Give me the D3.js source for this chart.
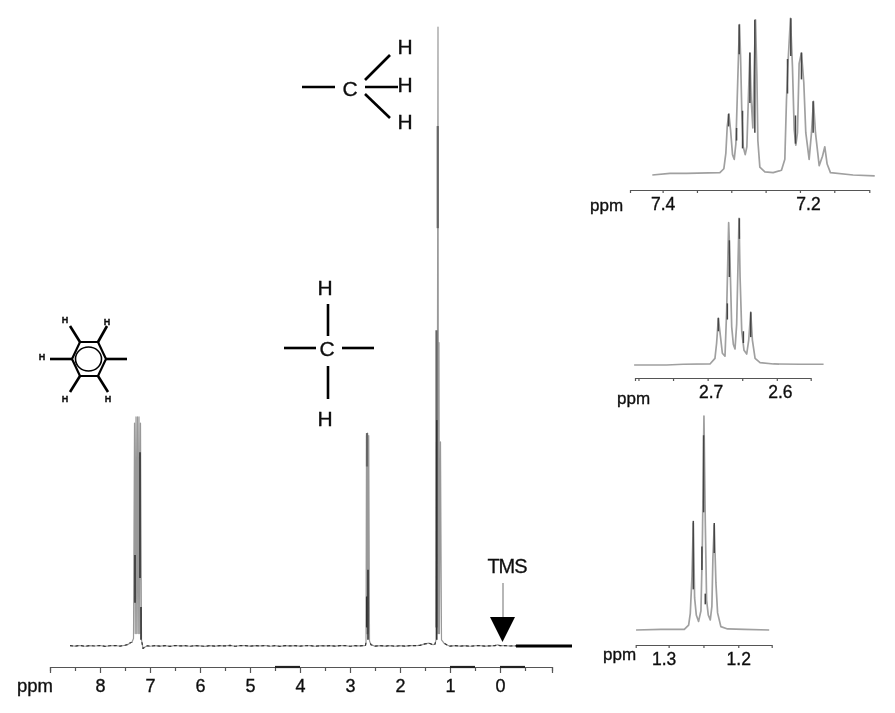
<!DOCTYPE html>
<html>
<head>
<meta charset="utf-8">
<script src="https://cdn.jsdelivr.net/npm/d3@7"></script>
<style>
  html, body { margin: 0; background: #fff; }
  text { font-family: "Liberation Sans", Arial, sans-serif; fill: #111; }
</style>
</head>
<body>
<div id="chart"></div>
<script>
// Full spectrum (ppm, relative intensity)
const mainPpm = [
  8.6,8.5,8.4,8.3,8.2,8.1,8.0,7.9,7.8,7.7,7.6,7.5,7.44,7.4,7.36,
  7.33,7.31,7.295,7.28,7.265,7.25,7.235,7.22,7.205,7.19,7.17,7.14,
  7.1,7.05,7.0,6.9,6.8,6.7,6.6,6.5,6.4,6.3,6.2,6.1,6.0,5.9,5.8,5.7,5.6,5.5,5.4,5.3,5.2,5.1,5.0,4.9,4.8,4.7,4.6,4.5,4.4,4.3,4.2,4.1,4.0,3.9,3.8,3.7,3.6,3.5,3.4,3.3,3.2,3.1,3.0,2.9,2.8,
  2.72,2.69,2.68,2.67,2.66,2.65,2.64,2.625,2.61,2.58,
  2.5,2.4,2.3,2.2,2.1,2.0,1.9,1.8,1.7,1.6,1.5,1.42,1.34,
  1.3,1.28,1.27,1.26,1.25,1.24,1.23,1.22,1.21,1.19,
  1.17,1.12,1.05,1.0,0.9,0.8,0.7,0.6,0.5,0.4,0.3,0.2,0.1,0.05,0.0,-0.1,-0.2,-0.32
];
const mainIntensity = [
  0.05,-0.03,0.08,-0.04,0.06,0,0.08,-0.05,0.04,0.08,-0.02,0.12,0.25,0.5,0.65,
  1.2,36,2,37,2,37,2,37,2,36,1,-0.4,
  -0.15,0.04,-0.04,0.07,-0.03,0.06,-0.05,0.08,0.01,0.05,-0.04,0.07,0.02,-0.05,0.06,-0.03,0.05,0.01,0.09,-0.04,0.05,0.07,-0.03,0.06,0.01,0.08,-0.04,0.05,-0.05,0.07,0.01,0.05,-0.03,0.04,0.07,-0.04,0.05,0.01,0.07,-0.03,0.05,0.07,-0.04,0.05,0.01,0.06,
  0.08,0.6,34,2,34.4,2,34,0.8,0.2,-0.03,
  0.06,-0.02,0.07,-0.04,0.05,-0.02,0.07,0.05,0.1,0.35,0.45,0.2,0.3,
  1,33,2,51,100,2,49,2,33,1,
  0.45,0.12,-0.03,0.06,-0.02,0.05,-0.04,0.04,0.07,-0.02,0.03,0.06,0.2,0.05,0.06,0,0.03,0
];
// Flat end of the trace, heavier than the rest
const mainTail = [-0.32,-0.8,-1.44];
const mainTailIntensity = [0,0,0];
// Darker stretches seen on the peaks: [ppm, low, high]
const mainDark = [[7.2,11,31.3],[7.3,7,14.7],[7.18,1,6.3],[2.64,1,12.3],[2.665,3,8],[1.265,1,36.5]];
const mainMid = [[2.66,29,34.4],[1.245,67.5,84],[1.27,3,51]];

// Aromatic multiplet
const benzenePpm = [7.415,7.3893,7.3651,7.3166,7.3108,7.3079,7.3059,7.3035,7.3011,7.2982,7.2957,7.2933,7.2914,7.2894,7.288,7.2865,7.2846,7.2826,7.2797,7.2773,7.2749,7.2729,7.271,7.2686,7.2666,7.2647,7.2627,7.2613,7.2584,7.2511,7.239,7.2269,7.222,7.2196,7.2172,7.2138,7.2109,7.2084,7.206,7.2036,7.2012,7.1978,7.1944,7.1915,7.1866,7.1832,7.1803,7.1774,7.172,7.1672,7.1638,7.1604,7.1556,7.1226,7.0911];
const benzeneIntensity = [0,1,1,1.5,4,14,31,39,29,13,10,20,48,78,96,76,39,18,13,18,52,78,48,30,69,99,63,22,5,2,1.5,3,10,48,73,100,69,29,19,27,71,78,59,27,10,27,47,27,6,12,18,7,1.5,0,-0.5];
const benzeneDark = [[7.2885,77,96],[7.2657,27,99],[7.2729,46,78],[7.2133,76,100],[7.2181,52,74],[7.1978,61,78],[7.1808,27,47],[7.304,31,39],[7.2836,17,41],[7.2923,22,30],[7.2065,20,38]];
const benzeneTicks = [7.4,7.35,7.3,7.25,7.2,7.15];

// CH2 quartet
const ch2Ppm = [2.8063,2.7594,2.7353,2.6966,2.6894,2.687,2.6845,2.6816,2.6787,2.6749,2.6725,2.6696,2.6676,2.6652,2.6628,2.6604,2.658,2.6546,2.6531,2.6507,2.6474,2.6435,2.6406,2.6377,2.6353,2.6314,2.6242,2.6048,2.5662,2.5324];
const ch2Intensity = [0,0,0.5,0.7,4.5,15,32,20,8,6,37,97,70,26,14,11,28,100,60,23,10,7.5,17,36,17,4.5,1.6,0.7,0.5,0.5];
const ch2Dark = [[2.6686,60,85],[2.6541,86,100],[2.6377,19,36],[2.6845,23,32],[2.6715,31,42],[2.6483,15,23]];
const ch2Ticks = [2.8,2.75,2.7,2.65,2.6];

// CH3 triplet
const ch3Ppm = [1.3468,1.311,1.2775,1.2713,1.2689,1.2665,1.2646,1.2627,1.2603,1.257,1.2536,1.2517,1.2493,1.2474,1.2455,1.2431,1.2402,1.2379,1.2364,1.2345,1.2321,1.2297,1.225,1.2154,1.1915,1.1556];
const ch3Intensity = [0,0.3,0.3,2.3,7.8,25,50,15,7,4,9,37,100,51,14,7,4.7,11,34,49,22,8,1.6,0.5,0.3,0];
const ch3Dark = [[1.2646,19,51],[1.2498,55,91],[1.2522,28,39],[1.2345,36,50],[1.2474,12,17]];
const ch3Ticks = [1.3,1.25,1.2];

const mainTicks = [8,7,6,5,4,3,2,1,0];
const mainMinorTicks = [8.5,7.5,6.5,5.5,4.5,3.5,2.5,1.5,0.5,-0.5];
// Heavy bars on the main axis: [from ppm, to ppm]
const axisBars = [[4.5,4],[1,0.5],[0,-0.5]];

const width = 895;
const height = 713;

const svg = d3.select('#chart').append('svg')
  .attr('width', width)
  .attr('height', height)
  .style('display', 'block');

// The source is a soft scan
svg.append('filter').attr('id', 'soft')
  .append('feGaussianBlur').attr('stdDeviation', 0.45);

const root = svg.append('g').attr('filter', 'url(#soft)');

function drawTrace(g, x, y, ppm, intensity, color, strokeWidth) {
  const line = d3.line().x((d) => x(d)).y((d, i) => y(intensity[i]));
  return g.append('path')
    .attr('d', line(ppm))
    .attr('fill', 'none')
    .attr('stroke', color)
    .attr('stroke-width', strokeWidth)
    .attr('stroke-linejoin', 'round');
}

function drawDark(g, x, y, dark, color, strokeWidth) {
  g.append('g')
    .selectAll('line')
    .data(dark)
    .enter()
    .append('line')
    .attr('x1', (d) => x(d[0]))
    .attr('x2', (d) => x(d[0]))
    .attr('y1', (d) => y(d[1]))
    .attr('y2', (d) => y(d[2]))
    .attr('stroke', color)
    .attr('stroke-width', strokeWidth);
}

function styleAxis(g) {
  g.selectAll('path, line').attr('stroke', '#555').attr('stroke-width', 1.2);
  g.selectAll('text').attr('fill', '#111').attr('stroke', '#111').attr('stroke-width', 0.35);
}

// Main spectrum
const mainX = d3.scaleLinear().domain([9, -1.04]).range([50, 552]);
const mainY = d3.scaleLinear().domain([0, 100]).range([646, 27]);
const mainG = root.append('g');

// Clip for the speckled baseline only
svg.append('clipPath').attr('id', 'baseline')
  .append('rect')
  .attr('x', 0)
  .attr('width', width)
  .attr('y', mainY(0.6))
  .attr('height', mainY(-0.6) - mainY(0.6));

drawTrace(mainG, mainX, mainY, mainPpm, mainIntensity, '#999', 1.2);
drawTrace(mainG.append('g').attr('clip-path', 'url(#baseline)'), mainX, mainY, mainPpm, mainIntensity, '#333', 1.2)
  .attr('stroke-dasharray', '3 2.5');
drawDark(mainG, mainX, mainY, mainMid, '#666', 2.2);
drawDark(mainG, mainX, mainY, mainDark, '#333', 1.6);
drawTrace(mainG, mainX, mainY, mainTail, mainTailIntensity, '#000', 3);

const mainAxis = d3.axisBottom(mainX)
  .tickValues(mainTicks)
  .tickFormat(d3.format('d'))
  .tickSize(6)
  .tickPadding(6);
const mainAxisG = root.append('g')
  .attr('transform', 'translate(0,667)')
  .call(mainAxis);
mainAxisG.selectAll('text').attr('font-size', 18).attr('font-family', '"Liberation Sans", Arial, sans-serif');
styleAxis(mainAxisG);

const mainMinor = root.append('g')
  .attr('transform', 'translate(0,667)')
  .call(d3.axisBottom(mainX).tickValues(mainMinorTicks).tickFormat('').tickSize(4));
styleAxis(mainMinor);

root.selectAll('line.bar')
  .data(axisBars)
  .enter()
  .append('line')
  .attr('class', 'bar')
  .attr('x1', (d) => mainX(d[0]))
  .attr('x2', (d) => mainX(d[1]))
  .attr('y1', 667)
  .attr('y2', 667)
  .attr('stroke', '#222')
  .attr('stroke-width', 2.2);

root.append('text').attr('x', 17).attr('y', 692).attr('font-size', 18.5)
  .attr('stroke', '#111').attr('stroke-width', 0.35).text('ppm');

// Expansions on the right
function drawInset(opts) {
  const x = d3.scaleLinear().domain(opts.domain).range(opts.range);
  const y = d3.scaleLinear().domain([0, 100]).range([opts.base, opts.top]);
  const g = root.append('g');

  drawTrace(g, x, y, opts.ppm, opts.intensity, '#a0a0a0', 1.7);
  drawDark(g, x, y, opts.dark, '#444', 1.5);

  const axis = d3.axisBottom(x)
    .tickValues(opts.ticks)
    .tickFormat((d) => (opts.labels[d] !== undefined ? d3.format('.1f')(d) : ''))
    .tickSize(3)
    .tickPadding(5);
  const axisG = root.append('g')
    .attr('transform', `translate(0,${opts.axisY})`)
    .call(axis);
  axisG.selectAll('text')
    .attr('font-size', 17.5)
    .attr('font-family', '"Liberation Sans", Arial, sans-serif')
    .attr('dx', (d) => opts.labels[d] || 0);
  styleAxis(axisG);

  root.append('text').attr('x', opts.ppmLabel[0]).attr('y', opts.ppmLabel[1])
    .attr('font-size', 17).attr('stroke', '#111').attr('stroke-width', 0.35).text('ppm');
}

drawInset({
  ppm: benzenePpm, intensity: benzeneIntensity, dark: benzeneDark, ticks: benzeneTicks,
  domain: [7.4475, 7.099], range: [630, 869.3], base: 175, top: 18.3, axisY: 190,
  labels: { 7.4: 0, 7.2: 8 }, ppmLabel: [590, 211],
});
drawInset({
  ppm: ch2Ppm, intensity: ch2Intensity, dark: ch2Dark, ticks: ch2Ticks,
  domain: [2.805, 2.551], range: [635, 810.7], base: 365, top: 218.3, axisY: 378,
  labels: { 2.7: 3, 2.6: 3 }, ppmLabel: [617, 404],
});
drawInset({
  ppm: ch3Ppm, intensity: ch3Intensity, dark: ch3Dark, ticks: ch3Ticks,
  domain: [1.3473, 1.152], range: [635.7, 771.7], base: 630, top: 416, axisY: 645,
  labels: { 1.3: -5, 1.2: 0 }, ppmLabel: [603, 660],
});

// TMS arrow
root.append('text').attr('x', 507).attr('y', 573).attr('text-anchor', 'middle')
  .attr('font-size', 20).attr('letter-spacing', -1)
  .attr('stroke', '#111').attr('stroke-width', 0.3).text('TMS');
root.append('line').attr('x1', 503).attr('x2', 503).attr('y1', 583).attr('y2', 622)
  .attr('stroke', '#999').attr('stroke-width', 1.4);
root.append('path').attr('d', 'M490,617L515,617L502.5,642Z').attr('fill', '#000');

// Structure sketches
function bond(x1, y1, x2, y2, w) {
  root.append('line')
    .attr('x1', x1).attr('y1', y1).attr('x2', x2).attr('y2', y2)
    .attr('stroke', '#000').attr('stroke-width', w || 2.6);
}
function atom(x, y, label, size, weight) {
  root.append('text')
    .attr('x', x).attr('y', y)
    .attr('text-anchor', 'middle')
    .attr('dominant-baseline', 'central')
    .attr('font-size', size)
    .attr('font-weight', weight || 'normal')
    .attr('stroke', '#111')
    .attr('stroke-width', 0.35)
    .text(label);
}

// CH3
atom(350, 88, 'C', 21);
atom(405, 46, 'H', 21);
atom(405, 84, 'H', 21);
atom(405, 121, 'H', 21);
bond(302, 87, 335, 87);
bond(365, 80, 390, 55);
bond(365, 87, 398, 87);
bond(365, 94, 390, 118);

// CH2
atom(327, 348, 'C', 21);
atom(325, 287, 'H', 21);
atom(325, 418, 'H', 21);
bond(284, 348, 316, 348);
bond(342, 348, 374, 348);
bond(328, 304, 328, 336);
bond(328, 366, 328, 399);

// Benzene
const ring = [[72, 359], [80, 342], [98, 342], [106, 359], [98, 376], [80, 376]];
root.append('path')
  .attr('d', d3.line()(ring) + 'Z')
  .attr('fill', 'none').attr('stroke', '#000').attr('stroke-width', 2.2);
root.append('ellipse')
  .attr('cx', 88.5).attr('cy', 359).attr('rx', 13).attr('ry', 12)
  .attr('fill', 'none').attr('stroke', '#000').attr('stroke-width', 1.6);
bond(50, 359, 72, 359);
bond(106, 359, 127, 359);
bond(80, 342, 70, 326);
bond(98, 342, 107, 326);
bond(80, 376, 70, 392);
bond(98, 376, 108, 392);
atom(42, 357, 'H', 9, 'bold');
atom(65, 320, 'H', 9, 'bold');
atom(107, 322, 'H', 9, 'bold');
atom(65, 399, 'H', 9, 'bold');
atom(108, 399, 'H', 9, 'bold');
</script>
</body>
</html>
